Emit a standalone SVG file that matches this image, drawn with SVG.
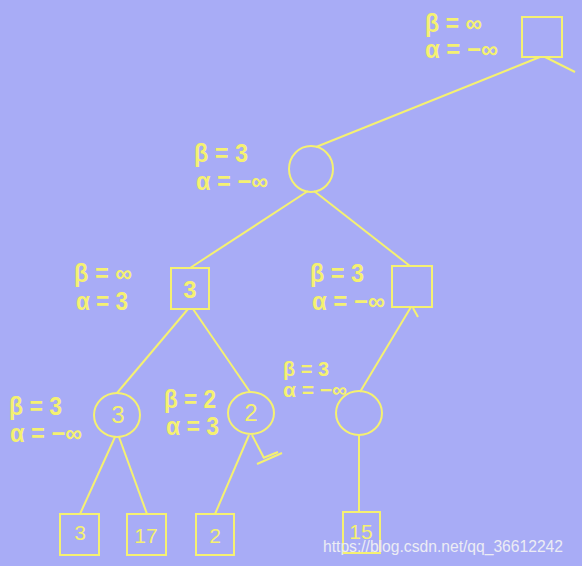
<svg xmlns="http://www.w3.org/2000/svg" width="582" height="566" viewBox="0 0 582 566">
<style>
.bg{fill:#A8ACF6}
.n{fill:none;stroke:#F5F171;stroke-width:2}
.e{fill:none;stroke:#F5F171;stroke-width:2}
.lab{font-family:"Liberation Sans",Arial,sans-serif;font-weight:bold;font-size:25px;fill:#F5F171}
.sm{font-size:21px}
.v{font-family:"Liberation Sans",Arial,sans-serif;font-size:24px;fill:#F5F171;text-anchor:middle}
.lf{font-size:21px}
.wm{font-family:"Liberation Sans",Arial,sans-serif;font-size:16px;fill:#ECECF4}
</style>
<rect class="bg" x="0" y="0" width="582" height="566"/>
<g id="connectors">
<line class="e" x1="540" y1="57" x2="316" y2="147"/>
<line class="e" x1="545" y1="57" x2="575" y2="72"/>
<line class="e" x1="308" y1="191" x2="190" y2="268"/>
<line class="e" x1="314" y1="191" x2="410" y2="266"/>
<line class="e" x1="188" y1="309" x2="117" y2="393"/>
<line class="e" x1="193" y1="309" x2="250" y2="392"/>
<line class="e" x1="411" y1="307" x2="360" y2="392"/>
<line class="e" x1="413" y1="308" x2="418" y2="317"/>
<line class="e" x1="115" y1="437" x2="80" y2="514"/>
<line class="e" x1="119" y1="437" x2="147" y2="514"/>
<line class="e" x1="249" y1="435" x2="215" y2="514"/>
<line class="e" x1="252" y1="435" x2="264" y2="458"/>
<line class="e" x1="263" y1="458" x2="278" y2="452"/>
<line class="e" x1="257" y1="464" x2="282" y2="453"/>
<line class="e" x1="359" y1="435" x2="359" y2="512"/>
</g>
<g id="root">
<rect class="n" x="522" y="17" width="40" height="40"/>
<text class="lab" x="425" y="32" textLength="57" lengthAdjust="spacingAndGlyphs">β = ∞</text>
<text class="lab" x="425" y="58" textLength="73" lengthAdjust="spacingAndGlyphs">α = −∞</text>
</g>
<g id="min1">
<ellipse class="n" cx="311" cy="169" rx="22" ry="23"/>
<text class="lab" x="194" y="162" textLength="54" lengthAdjust="spacingAndGlyphs">β = 3</text>
<text class="lab" x="196" y="190" textLength="72" lengthAdjust="spacingAndGlyphs">α = −∞</text>
</g>
<g id="max-left">
<rect class="n" x="171" y="268" width="38" height="41"/>
<text class="v" x="190" y="298" font-weight="bold">3</text>
<text class="lab" x="74" y="282" textLength="58" lengthAdjust="spacingAndGlyphs">β = ∞</text>
<text class="lab" x="76" y="310" textLength="52" lengthAdjust="spacingAndGlyphs">α = 3</text>
</g>
<g id="max-right">
<rect class="n" x="392" y="266" width="40" height="41"/>
<text class="lab" x="310" y="282" textLength="54" lengthAdjust="spacingAndGlyphs">β = 3</text>
<text class="lab" x="312" y="310" textLength="73" lengthAdjust="spacingAndGlyphs">α = −∞</text>
</g>
<g id="min-left">
<ellipse class="n" cx="117" cy="415" rx="23" ry="22"/>
<text class="v" x="118" y="423">3</text>
<text class="lab" x="9" y="415" textLength="53" lengthAdjust="spacingAndGlyphs">β = 3</text>
<text class="lab" x="10" y="442" textLength="72" lengthAdjust="spacingAndGlyphs">α = −∞</text>
</g>
<g id="min-mid">
<ellipse class="n" cx="251" cy="413" rx="23" ry="21"/>
<text class="v" x="251" y="421">2</text>
<text class="lab" x="164" y="408" textLength="52" lengthAdjust="spacingAndGlyphs">β = 2</text>
<text class="lab" x="166" y="435" textLength="53" lengthAdjust="spacingAndGlyphs">α = 3</text>
</g>
<g id="min-right">
<ellipse class="n" cx="359" cy="413" rx="23" ry="22"/>
<text class="lab sm" x="283" y="376" textLength="46" lengthAdjust="spacingAndGlyphs">β = 3</text>
<text class="lab sm" x="283" y="397" textLength="64" lengthAdjust="spacingAndGlyphs">α = −∞</text>
</g>
<g id="leaf3">
<rect class="n" x="60" y="514" width="39" height="41"/>
<text class="v lf" x="80" y="540">3</text>
</g>
<g id="leaf17">
<rect class="n" x="127" y="514" width="39" height="41"/>
<text class="v lf" x="146" y="543">17</text>
</g>
<g id="leaf2">
<rect class="n" x="196" y="514" width="38" height="41"/>
<text class="v lf" x="215" y="543">2</text>
</g>
<g id="leaf15">
<rect class="n" x="343" y="512" width="37" height="41"/>
<text class="v lf" x="361" y="539">15</text>
</g>
<text class="wm" x="323" y="552" textLength="240" lengthAdjust="spacingAndGlyphs">https://blog.csdn.net/qq_36612242</text>
</svg>
